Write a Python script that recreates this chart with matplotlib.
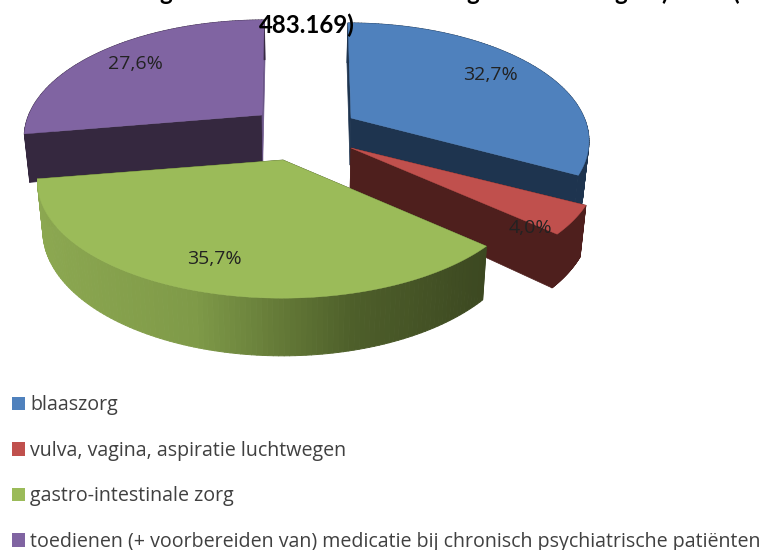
import numpy as np
import matplotlib
matplotlib.use("Agg")
import matplotlib.pyplot as plt
from matplotlib.patches import Polygon, Patch
from matplotlib.collections import PolyCollection
from matplotlib.colors import LinearSegmentedColormap, Normalize

categories = ["blaaszorg", "vulva, vagina, aspiratie luchtwegen", "gastro-intestinale zorg",
              "toedienen (+ voorbereiden van) medicatie bij chronisch psychiatrische patiënten"]
values = [32.7, 4.0, 35.7, 27.6]
value_labels = ["32,7%", "4,0%", "35,7%", "27,6%"]

top_colors = ["#4F81BD", "#C0504D", "#9BBB59", "#8064A2"]
wall_colors = ["#1E344F", "#4E1F1D", None, "#35283F"]
end_colors = ["#1E344F", "#4E1F1D", "#3E4A22", "#6A5488"]
start_colors = ["#1E344F", "#4E1F1D", "#3E4A22", "#35283F"]
apexes = [(351, 118), (351, 148), (283, 160), (262, 115)]
radius_scale = [0.968, 1.0, 1.0, 0.968]
label_pos = [(490, 75), (530, 228), (214, 259), (135, 64)]
draw_order = [3, 0, 1, 2]

RX, RY, K, H, VX, SHRINK, TILT = 241, 112.6, 0.185, 47, 300, 0.98, 0.06

fig = plt.figure(figsize=(7.64, 5.5), dpi=100)
ax = fig.add_axes([0, 0, 1, 1])
ax.set_xlim(0, 764)
ax.set_ylim(550, 0)
ax.axis("off")


def rim(theta, apex, scale):
    X, Y = np.sin(theta), np.cos(theta)
    s = 1 / (1 + K * Y)
    x = apex[0] + scale * RX * X * s + TILT * (VX - apex[0]) * Y
    y = apex[1] - RY * Y * s
    return np.column_stack([x, y]), s


def drop(pts, s):
    out = np.asarray(pts, float).copy()
    out[:, 0] = VX + (out[:, 0] - VX) * SHRINK
    out[:, 1] = out[:, 1] + H * s
    return out


green_map = LinearSegmentedColormap.from_list(
    "wall", [(0, "#8CA851"), (0.35, "#7F9A48"), (0.7, "#4E5F2A"), (1, "#3C4821")])
norm = Normalize(36, 486)

fracs = np.array(values) / sum(values)
edges = np.concatenate([[0], np.cumsum(fracs)]) * 2 * np.pi

for order, i in enumerate(draw_order):
    z = 2 + order
    a = apexes[i]
    th = np.linspace(edges[i], edges[i + 1], 120)
    pts, s = rim(th, a, radius_scale[i])
    apex_arr = np.array([a], float)
    apex_low = drop(apex_arr, np.array([1.0]))
    low = drop(pts, s)
    ax.add_patch(Polygon(np.vstack([apex_arr, pts[:1], low[:1], apex_low]), fc=start_colors[i],
                         ec=start_colors[i], lw=0.5, zorder=z))
    ax.add_patch(Polygon(np.vstack([apex_arr, pts[-1:], low[-1:], apex_low]), fc=end_colors[i],
                         ec=end_colors[i], lw=0.5, zorder=z))
    quads = [np.vstack([pts[j], pts[j + 1], low[j + 1], low[j]]) for j in range(len(th) - 1)]
    if wall_colors[i] is None:
        cols = [green_map(norm(q[:, 0].mean())) for q in quads]
    else:
        cols = [wall_colors[i]] * len(quads)
    ax.add_collection(PolyCollection(quads, facecolors=cols, edgecolors=cols, linewidths=0.7, zorder=z + 0.1))
    ax.add_patch(Polygon(np.vstack([apex_arr, pts]), fc=top_colors[i], ec=top_colors[i], lw=0.3, zorder=z + 0.2))

for txt, (x, y) in zip(value_labels, label_pos):
    ax.text(x, y, txt, ha="center", va="center", fontsize=14, family="Open Sans", color="#222222", zorder=10)

# Second title line and the descenders of the first, which the image cuts off
title_font = dict(family="Lato", fontweight="bold", color="black", zorder=11, clip_on=False)
ax.text(307, 25, "483.169)", ha="center", va="center", fontsize=17.3, **title_font)
for frag, x in zip(["g", "g", "g", ")", "("], [166, 473, 621, 665, 735]):
    ax.text(x, 0, frag, ha="center", va="baseline", fontsize=17.3, **title_font)

handles = [Patch(fc=c, ec="none") for c in top_colors]
fig.legend(handles, categories, loc="upper left", bbox_to_anchor=(0.0157, 0.281), frameon=False,
           prop={"family": "Open Sans", "size": 14.1}, labelcolor="#404040",
           handlelength=0.67, handleheight=0.67, handletextpad=0.26, labelspacing=1.30, borderpad=0, borderaxespad=0)

fig.savefig("out.png", dpi=100)
